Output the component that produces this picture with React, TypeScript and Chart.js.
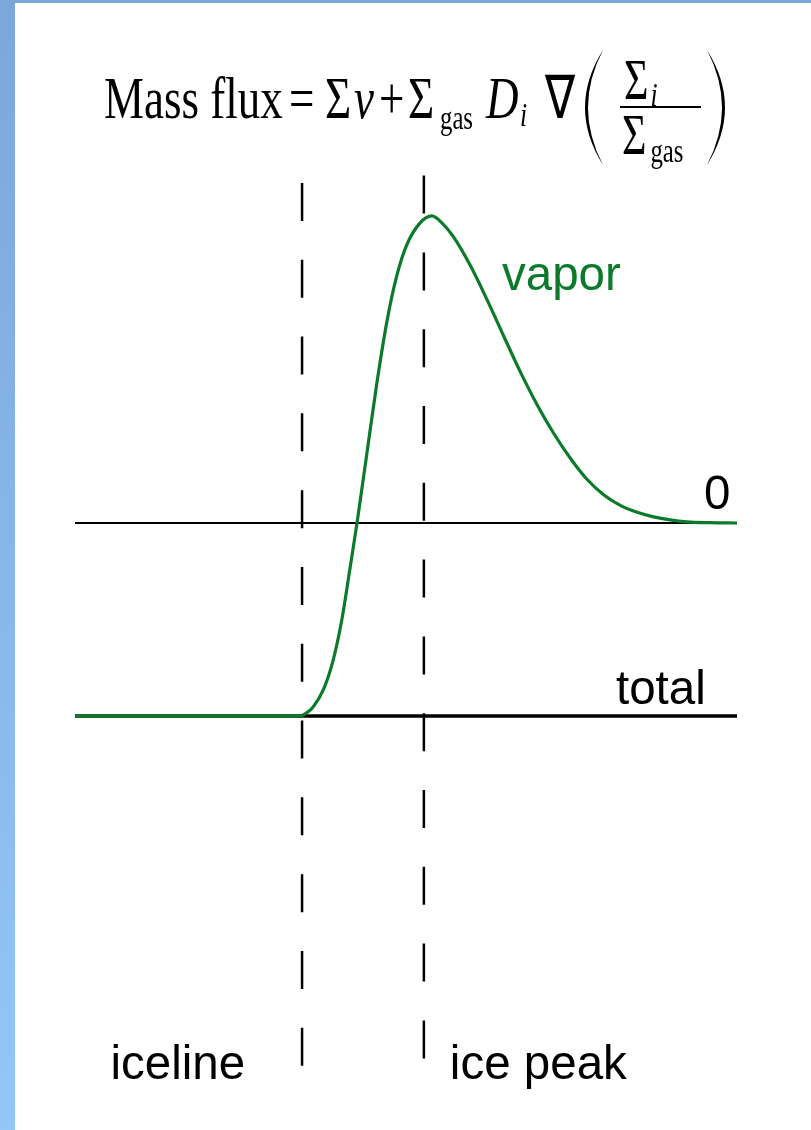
import React, { useEffect, useRef } from "react";
import { Chart, registerables } from "chart.js";

Chart.register(...registerables);

// Radial position (arbitrary units, 0..100) and vapor mass flux (units of |total flux|)
const vaporX = [0, 20, 34.0, 35.0, 36.0, 37.5, 39.0, 40.3, 41.5, 42.6, 44.1, 45.6, 47.1, 48.6, 50.1, 52.1, 53.9, 55.6, 57.1, 59.7, 62.2, 64.7, 67.2, 69.7, 72.3, 74.8, 77.3, 79.8, 82.3, 84.8, 87.4, 89.9, 92.4, 95.9, 100];
const vaporY = [-1, -1, -1, -0.984, -0.952, -0.865, -0.71, -0.503, -0.244, 0, 0.363, 0.725, 1.041, 1.28, 1.44, 1.554, 1.591, 1.549, 1.486, 1.335, 1.16, 0.973, 0.788, 0.619, 0.465, 0.337, 0.228, 0.148, 0.093, 0.057, 0.032, 0.016, 0.006, 0.0015, 0];

// Horizontal reference levels
const levelLabels = ["0", "total"];
const levelValues = [0, -1];

// Vertical markers
const markerLabels = ["iceline", "ice peak"];
const markerX = [34.3, 52.7];

const GREEN = "#0b7a2b";
const SANS = "'Liberation Sans', Arial, sans-serif";
const SERIF = "'Liberation Serif', 'Times New Roman', serif";

function txt(ctx: CanvasRenderingContext2D, s: string, x: number, y: number, font: string, sx = 1, sy = 1, color = "#000") {
  ctx.save();
  ctx.translate(x, y);
  ctx.scale(sx, sy);
  ctx.font = font;
  ctx.fillStyle = color;
  ctx.textBaseline = "alphabetic";
  ctx.textAlign = "left";
  ctx.fillText(s, 0, 0);
  ctx.restore();
}

// width of a string once horizontally scaled
function wid(ctx: CanvasRenderingContext2D, s: string, font: string, sx = 1) {
  ctx.save();
  ctx.font = font;
  const w = ctx.measureText(s).width * sx;
  ctx.restore();
  return w;
}

// Tall parenthesis as a filled crescent
function paren(ctx: CanvasRenderingContext2D, xEnd: number, xOuter: number, xInner: number, top: number, bottom: number) {
  const mid = (top + bottom) / 2;
  const cOuter = 2 * xOuter - xEnd;
  const cInner = 2 * xInner - xEnd;
  ctx.save();
  ctx.fillStyle = "#000";
  ctx.beginPath();
  ctx.moveTo(xEnd, top);
  ctx.quadraticCurveTo(cOuter, mid, xEnd, bottom);
  ctx.quadraticCurveTo(cInner, mid, xEnd, top);
  ctx.closePath();
  ctx.fill();
  ctx.restore();
}

const backdrop = {
  id: "backdrop",
  beforeDraw(chart: any) {
    const { ctx, width, height } = chart;
    ctx.save();
    ctx.fillStyle = "#ffffff";
    ctx.fillRect(0, 0, width, height);
    const g = ctx.createLinearGradient(0, 0, 0, height);
    g.addColorStop(0, "#7ba7dc");
    g.addColorStop(1, "#94c6f8");
    ctx.fillStyle = g;
    ctx.fillRect(0, 0, 15, height);
    ctx.fillStyle = "#7ba7dc";
    ctx.fillRect(0, 0, width, 3);
    ctx.restore();
  },
};

const annotations = {
  id: "annotations",
  afterDatasetsDraw(chart: any) {
    const { ctx } = chart;
    const xs = chart.scales.x;
    const ys = chart.scales.y;
    const lab = `47.5px ${SANS}`;

    // curve label
    txt(ctx, "vapor", 502, 290, lab, 1, 1, GREEN);

    // level labels, sitting just above their lines
    txt(ctx, levelLabels[0], 704, ys.getPixelForValue(levelValues[0]) - 14, lab);
    txt(ctx, levelLabels[1], 616, ys.getPixelForValue(levelValues[1]) - 12, lab);

    // marker labels at the bottom
    const w0 = wid(ctx, markerLabels[0], lab);
    txt(ctx, markerLabels[0], xs.getPixelForValue(markerX[0]) - 57 - w0, 1079, lab);
    txt(ctx, markerLabels[1], xs.getPixelForValue(markerX[1]) + 26, 1079, lab);

    // flux equation (condensed serif)
    const m = 60, sx = 0.75;
    const f = `${m}px ${SERIF}`;
    const fi = `italic ${m}px ${SERIF}`;
    const sub = `33px ${SERIF}`;
    const subi = `italic 34px ${SERIF}`;
    const frac = `56px ${SERIF}`;
    const base = 118;
    txt(ctx, "Mass flux", 104, base, f, sx);
    txt(ctx, "=", 289, base, f, sx);
    txt(ctx, "Σ", 325, base, f, sx);
    txt(ctx, "v", 354, base, fi, sx);
    txt(ctx, "+", 379, base, f, sx);
    txt(ctx, "Σ", 408, base, f, sx);
    txt(ctx, "gas", 440, base + 11, sub, sx);
    txt(ctx, "D", 486, base, fi, sx);
    txt(ctx, "i", 520, base + 8, subi, sx);
    txt(ctx, "∇", 545, base, f, sx);
    paren(ctx, 603, 585, 588, 50, 165);
    const sw = wid(ctx, "Σ", frac, sx);
    txt(ctx, "Σ", 624, 99, frac, sx);
    txt(ctx, "i", 624 + sw + 2, 106, subi, sx);
    ctx.save();
    ctx.fillStyle = "#000";
    ctx.fillRect(620, 106, 81, 2);
    ctx.restore();
    txt(ctx, "Σ", 622, 154, frac, sx);
    txt(ctx, "gas", 622 + sw + 4, 162, sub, sx);
    paren(ctx, 707, 725, 722, 50, 165);
  },
};

export default function App() {
  const ref = useRef<HTMLCanvasElement>(null);

  useEffect(() => {
    const canvas = ref.current;
    if (!canvas) return;

    const vapor = vaporX.map((x, i) => ({ x, y: vaporY[i] }));
    const levels = levelValues.map((v, i) => ({
      label: levelLabels[i],
      data: [{ x: 0, y: v }, { x: 100, y: v }],
      borderColor: "#000",
      borderWidth: i === 0 ? 2.2 : 3.5,
      pointRadius: 0,
      order: 2,
    }));
    const tops = [1.762, 1.8];
    const bottoms = [-2.813, -2.777];
    const markers = markerX.map((x, i) => ({
      label: markerLabels[i],
      data: [{ x, y: tops[i] }, { x, y: bottoms[i] }],
      borderColor: "#000",
      borderWidth: 2.5,
      borderDash: [38, 38.8],
      borderCapStyle: "butt",
      pointRadius: 0,
      order: 3,
    }));

    const chart = new Chart(canvas, {
      type: "line",
      data: {
        datasets: [
          {
            label: "vapor",
            data: vapor,
            borderColor: GREEN,
            borderWidth: 3.2,
            pointRadius: 0,
            cubicInterpolationMode: "monotone",
            order: 0,
          },
          ...levels,
          ...markers,
        ] as any,
      },
      options: {
        responsive: false,
        animation: false,
        devicePixelRatio: 1,
        events: [],
        layout: { padding: { left: 75, right: 74, top: 40.5, bottom: 28 } },
        scales: {
          x: { type: "linear", min: 0, max: 100, display: false },
          y: { type: "linear", min: -3, max: 2.5, display: false },
        },
        plugins: {
          legend: { display: false },
          tooltip: { enabled: false },
        },
      },
      plugins: [backdrop, annotations],
    });

    return () => chart.destroy();
  }, []);

  return (
    <div style={{ position: "fixed", left: 0, top: 0, width: 811, height: 1130, background: "#fff" }}>
      <canvas ref={ref} width={811} height={1130} style={{ display: "block", width: 811, height: 1130 }} />
    </div>
  );
}
